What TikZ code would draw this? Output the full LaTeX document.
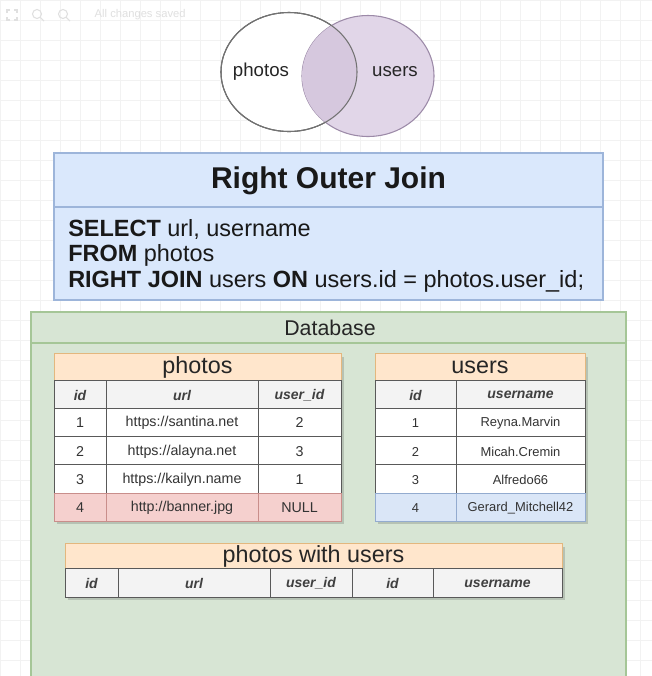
\documentclass[tikz,border=0pt]{standalone}
\usepackage{fontspec}
\setmainfont{Liberation Sans}
\usetikzlibrary{calc}

\definecolor{sqlfill}{HTML}{DAE8FC}
\definecolor{sqlline}{HTML}{9DB5DA}
\definecolor{dbfill}{HTML}{D7E5D4}
\definecolor{dbline}{HTML}{A5C697}
\definecolor{ttlfill}{HTML}{FFE6CC}
\definecolor{ttlline}{HTML}{E3B77E}
\definecolor{nullfill}{HTML}{F5D0CE}
\definecolor{nullline}{HTML}{C98E8B}
\definecolor{lastfill}{HTML}{DAE6F7}
\definecolor{lastline}{HTML}{93ABCF}
\definecolor{headfill}{HTML}{F3F3F3}
\definecolor{vennfill}{HTML}{E1D6E8}
\definecolor{venndark}{HTML}{D6C8DE}
\definecolor{vennline}{HTML}{9C8AA8}

\begin{document}
\begin{tikzpicture}[x=0.75pt, y=-0.75pt,
    gridline/.style={black!5, line width=0.5pt},
    toolbar/.style={text=black!12, font=\fontsize{8.4}{10}\selectfont},
    vennlabel/.style={text=black!85, font=\fontsize{14}{16}\selectfont},
    sqltext/.style={anchor=base west, inner sep=0pt, text=black!90, font=\fontsize{17.6}{20}\selectfont},
    ttl/.style={text=black!85, font=\fontsize{17.5}{20}\selectfont},
    cell/.style={text=black!80, font=\fontsize{10.7}{12}\selectfont},
    smallcell/.style={text=black!80, font=\fontsize{9.7}{11}\selectfont},
    head/.style={text=black!75, font=\fontsize{10.5}{12}\selectfont\bfseries\itshape},
    tabrule/.style={draw=black!65, line width=0.6pt},
    shade/.style={fill=black, opacity=0.15}]
    \clip (0,0) rectangle (652,676);
    \fill[white] (0,0) rectangle (652,676);
    \foreach \g in {0,20,...,660} {
        \draw[gridline] (\g,0) -- (\g,676);
        \draw[gridline] (0,\g) -- (652,\g);
    }

    % toolbar of the editor
    \draw[black!12, line width=0.8pt] (7,13) -- (7,10) -- (10,10) (14,10) -- (17,10) -- (17,13)
        (17,17) -- (17,20) -- (14,20) (10,20) -- (7,20) -- (7,17);
    \draw[black!12, line width=0.8pt] (37,14) circle (4.5) (40.5,17.5) -- (44,21);
    \draw[black!12, line width=0.8pt] (63,14) circle (4.5) (66.5,17.5) -- (70,21);
    \node[toolbar, anchor=west] (saved) at (90,15) {All changes saved};

    % venn diagram
    \coordinate (P) at (289,72);
    \coordinate (U) at (368,76);
    \draw[black!70, line width=0.8pt, fill=white] (P) ellipse (68 and 59.5);
    \draw[vennline, line width=0.8pt, fill=vennfill] (U) ellipse (66 and 60.5);
    \begin{scope}
        \clip (U) ellipse (66 and 60.5);
        \fill[venndark] (P) ellipse (68 and 59.5);
    \end{scope}
    \draw[black!55, line width=0.8pt] (P) ellipse (68 and 59.5);
    \node[vennlabel] (photosset) at (261,72) {photos};
    \node[vennlabel] (usersset) at (395,72) {users};

    % query box
    \draw[sqlline, fill=sqlfill, line width=0.8pt] (54,153) rectangle (603,300);
    \draw[sqlline, line width=0.8pt] (54,207) -- (603,207);
    \node[text=black!90, font=\fontsize{22.5}{26}\selectfont\bfseries] (title) at (328.5,181) {Right Outer Join};
    \node[sqltext] (sql1) at (68,236) {\textbf{SELECT} url, username};
    \node[sqltext] (sql2) at (68,261) {\textbf{FROM} photos};
    \node[sqltext] (sql3) at (68,287) {\textbf{RIGHT JOIN} users \textbf{ON} users.id = photos.user\_id;};

    % database
    \draw[dbline, fill=dbfill, line width=0.8pt] (31,312) rectangle (626,700);
    \draw[dbline, line width=0.8pt] (31,343) -- (626,343);
    \node[text=black!85, font=\fontsize{16}{19}\selectfont] (db) at (330,328) {Database};

    % photos table
    \fill[shade] (57,357) rectangle (344,524);
    \draw[ttlline, fill=ttlfill] (54,353) rectangle (341,380);
    \node[ttl] (photostitle) at (197.5,367.5) {photos};
    \draw[tabrule, fill=headfill] (54,380) rectangle (341,408);
    \draw[tabrule, fill=white] (54,408) rectangle (341,493);
    \foreach \y in {436.3,464.6} \draw[tabrule] (54,\y) -- (341,\y);
    \foreach \x in {106,258} \draw[tabrule] (\x,380) -- (\x,493);
    \draw[nullline, fill=nullfill] (54,493) rectangle (341,521);
    \foreach \x in {106,258} \draw[nullline] (\x,493) -- (\x,521);
    \node[head] (ph-id) at (80,395) {id};
    \node[head] (ph-url) at (182,395) {url};
    \node[head] (ph-uid) at (299.5,395) {user\_id};
    \foreach \y/\i/\u/\v in {423/1/{https://santina.net}/2, 451.5/2/{https://alayna.net}/3,
        480/3/{https://kailyn.name}/1, 508/4/{http://banner.jpg}/NULL} {
        \node[cell] (p\i-id) at (80,\y) {\i};
        \node[cell] (p\i-url) at (182,\y) {\u};
        \node[cell] (p\i-uid) at (299.5,\y) {\v};
    }

    % users table
    \fill[shade] (378,357) rectangle (588,524);
    \draw[ttlline, fill=ttlfill] (375,353) rectangle (585,380);
    \node[ttl] (userstitle) at (480,367.5) {users};
    \draw[tabrule, fill=headfill] (375,380) rectangle (585,408);
    \draw[tabrule, fill=white] (375,408) rectangle (585,493);
    \foreach \y in {436.3,464.6} \draw[tabrule] (375,\y) -- (585,\y);
    \draw[tabrule] (456,380) -- (456,493);
    \draw[lastline, fill=lastfill] (375,493) rectangle (585,521);
    \draw[lastline] (456,493) -- (456,521);
    \node[head] (us-id) at (415.5,395) {id};
    \node[head] (us-name) at (520.5,395) {username};
    \foreach \y/\i/\n in {423/1/Reyna.Marvin, 451.5/2/Micah.Cremin,
        480/3/Alfredo66, 508/4/Gerard\_Mitchell42} {
        \node[smallcell] (u\i-id) at (415.5,\y) {\i};
        \node[smallcell] (u\i-name) at (520.5,\y) {\n};
    }

    % joined table
    \fill[shade] (68,547) rectangle (565,600);
    \draw[ttlline, fill=ttlfill] (65,543) rectangle (562,568);
    \node[ttl] (jointitle) at (313.5,556.5) {photos with users};
    \draw[tabrule, fill=headfill] (65,568) rectangle (562,597);
    \foreach \x in {118,270,352,433} \draw[tabrule] (\x,568) -- (\x,597);
    \foreach \x/\h [count=\k] in {91.5/id, 194/url, 311/user\_id, 392.5/id, 497.5/username}
        \node[head] (j-\k) at (\x,583.5) {\h};
\end{tikzpicture}
\end{document}
